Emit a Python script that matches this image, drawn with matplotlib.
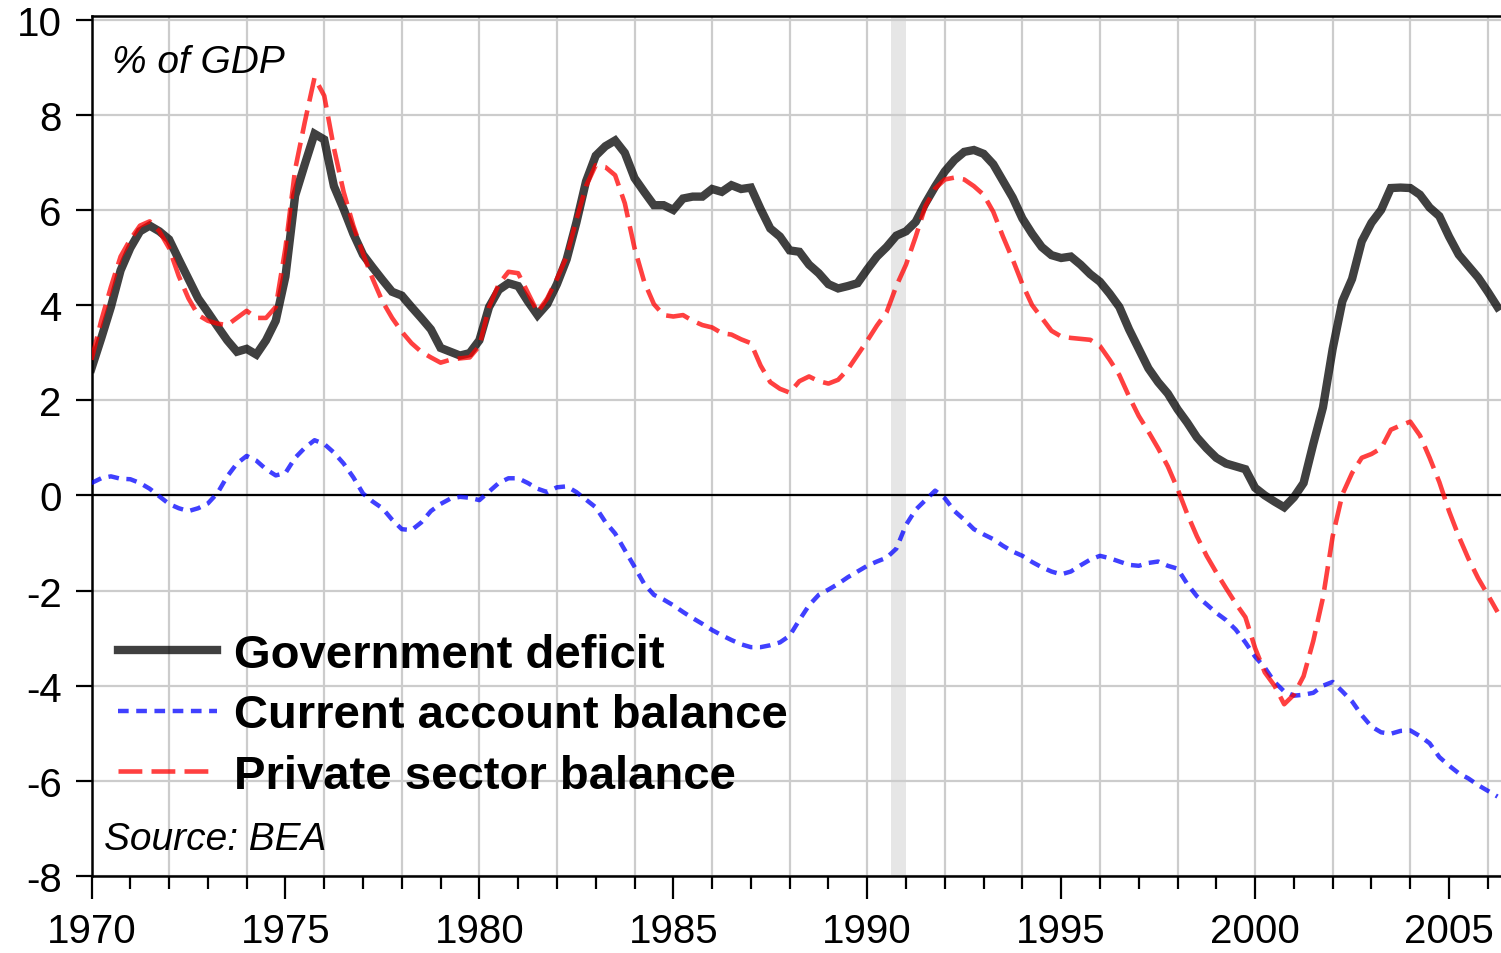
import matplotlib.pyplot as plt
import numpy as np

plt.rcParams['font.family'] = ['Liberation Sans', 'DejaVu Sans']

# quarterly observations, 1970Q1 .. 2006Q2 (% of GDP)
start_year = 1970.0
gov_deficit = [
    2.67, 3.30, 3.96, 4.73,
    5.20, 5.55, 5.67, 5.55,
    5.38, 4.96, 4.55, 4.14,
    3.85, 3.55, 3.26, 3.02,
    3.08, 2.96, 3.26, 3.67,
    4.60, 6.30, 6.96, 7.60,
    7.48, 6.50, 6.02, 5.50,
    5.06, 4.79, 4.53, 4.28,
    4.20, 3.96, 3.73, 3.49,
    3.10, 3.02, 2.94, 2.99,
    3.26, 3.96, 4.32, 4.46,
    4.40, 4.08, 3.79, 4.02,
    4.44, 4.96, 5.73, 6.60,
    7.14, 7.34, 7.46, 7.20,
    6.67, 6.38, 6.10, 6.10,
    6.00, 6.24, 6.28, 6.28,
    6.44, 6.38, 6.52, 6.44,
    6.47, 6.02, 5.61, 5.44,
    5.15, 5.12, 4.85, 4.67,
    4.44, 4.35, 4.40, 4.46,
    4.75, 5.02, 5.22, 5.46,
    5.55, 5.75, 6.14, 6.49,
    6.81, 7.05, 7.22, 7.26,
    7.18, 6.96, 6.61, 6.26,
    5.82, 5.50, 5.22, 5.05,
    4.99, 5.02, 4.85, 4.65,
    4.49, 4.24, 3.96, 3.49,
    3.08, 2.67, 2.38, 2.14,
    1.81, 1.53, 1.22, 0.99,
    0.79, 0.67, 0.61, 0.55,
    0.16, 0.00, -0.13, -0.25,
    -0.04, 0.26, 1.08, 1.85,
    3.08, 4.08, 4.55, 5.34,
    5.73, 6.00, 6.46, 6.47,
    6.46, 6.32, 6.05, 5.87,
    5.44, 5.06, 4.82, 4.58,
    4.28, 3.96,
]
current_account = [
    0.26, 0.36, 0.40, 0.35,
    0.34, 0.26, 0.14, -0.02,
    -0.18, -0.27, -0.33, -0.27,
    -0.17, 0.05, 0.40, 0.67,
    0.83, 0.73, 0.55, 0.42,
    0.47, 0.79, 1.00, 1.16,
    1.08, 0.90, 0.67, 0.38,
    0.04, -0.13, -0.27, -0.51,
    -0.71, -0.73, -0.57, -0.33,
    -0.18, -0.07, -0.03, -0.05,
    -0.10, 0.08, 0.26, 0.36,
    0.36, 0.26, 0.14, 0.07,
    0.17, 0.19, 0.07, -0.09,
    -0.25, -0.56, -0.80, -1.15,
    -1.50, -1.86, -2.09, -2.19,
    -2.31, -2.45, -2.58, -2.70,
    -2.83, -2.94, -3.04, -3.13,
    -3.19, -3.19, -3.15, -3.09,
    -2.95, -2.62, -2.31, -2.09,
    -1.98, -1.86, -1.72, -1.60,
    -1.48, -1.39, -1.31, -1.12,
    -0.62, -0.30, -0.10, 0.10,
    -0.06, -0.33, -0.51, -0.71,
    -0.82, -0.92, -1.06, -1.18,
    -1.27, -1.40, -1.51, -1.60,
    -1.66, -1.60, -1.47, -1.35,
    -1.27, -1.32, -1.39, -1.46,
    -1.48, -1.42, -1.39, -1.48,
    -1.54, -1.86, -2.12, -2.29,
    -2.47, -2.62, -2.82, -3.09,
    -3.39, -3.62, -3.92, -4.12,
    -4.21, -4.19, -4.15, -4.00,
    -3.92, -4.12, -4.33, -4.62,
    -4.86, -4.98, -5.01, -4.95,
    -4.94, -5.06, -5.21, -5.50,
    -5.68, -5.84, -5.95, -6.09,
    -6.21, -6.33,
]
private_balance = [
    2.85, 3.67, 4.38, 5.02,
    5.38, 5.67, 5.76, 5.55,
    5.20, 4.61, 4.14, 3.79,
    3.67, 3.61, 3.58, 3.73,
    3.88, 3.73, 3.73, 3.96,
    5.20, 6.85, 7.85, 8.78,
    8.40, 7.30, 6.38, 5.67,
    5.08, 4.55, 4.08, 3.73,
    3.44, 3.20, 3.02, 2.90,
    2.79, 2.85, 2.88, 2.90,
    3.14, 3.96, 4.44, 4.70,
    4.67, 4.26, 3.85, 4.14,
    4.55, 5.02, 5.79, 6.50,
    6.94, 6.90, 6.73, 6.14,
    5.20, 4.49, 4.02, 3.79,
    3.76, 3.79, 3.67, 3.58,
    3.53, 3.41, 3.38, 3.28,
    3.20, 2.73, 2.38, 2.24,
    2.16, 2.40, 2.50, 2.40,
    2.35, 2.43, 2.65, 2.95,
    3.25, 3.57, 3.85, 4.40,
    4.85, 5.44, 6.08, 6.45,
    6.64, 6.68, 6.64, 6.50,
    6.32, 5.96, 5.44, 4.96,
    4.44, 4.00, 3.73, 3.46,
    3.34, 3.31, 3.29, 3.27,
    3.14, 2.85, 2.53, 2.08,
    1.67, 1.34, 0.99, 0.61,
    0.14, -0.39, -0.86, -1.27,
    -1.62, -1.95, -2.27, -2.56,
    -3.21, -3.72, -4.00, -4.39,
    -4.19, -3.80, -3.06, -2.15,
    -0.86, 0.02, 0.47, 0.79,
    0.87, 0.99, 1.38, 1.47,
    1.55, 1.26, 0.79, 0.28,
    -0.33, -0.86, -1.33, -1.74,
    -2.09, -2.45,
]
labels = ['Government deficit', 'Current account balance', 'Private sector balance']
recession = (1990.625, 1991.0)

years = start_year + 0.25 * np.arange(len(gov_deficit))

fig = plt.figure(figsize=(15.01, 9.54), dpi=100)
ax = fig.add_axes([91.5 / 1501, 77 / 954, 1409.5 / 1501, 859.7 / 954])

ax.set_xlim(1970, 2006.34)
ax.set_ylim(-8, 10.07)

# background: shading, grid
ax.axvspan(*recession, color='#e6e6e6', lw=0, zorder=0.1)
for yr in range(1972, 2007, 2):
    ax.axvline(yr, color='#cccccc', lw=1.6, zorder=0.3)
ax.set_yticks(np.arange(-8, 11, 2))
ax.yaxis.grid(True, color='#cccccc', lw=1.6, zorder=0.3)
ax.set_axisbelow(True)
ax.axhline(0, color='black', lw=1.6, zorder=1.5)

ax.plot(years, gov_deficit, color='black', alpha=0.75, lw=6.0,
        solid_joinstyle='miter', label=labels[0], zorder=2)
ax.plot(years, current_account, color='blue', alpha=0.75, lw=3.2,
        dashes=(2.4, 1.7), label=labels[1], zorder=3)
ax.plot(years, private_balance, color='red', alpha=0.75, lw=3.3,
        dashes=(5.2, 2.0), label=labels[2], zorder=4)

# axes decoration
ax.spines['right'].set_visible(False)
for s in ['left', 'bottom', 'top']:
    ax.spines[s].set_linewidth(1.8)
ax.set_xticks(np.arange(1970, 2006, 5))
ax.set_xticks(np.arange(1970, 2007, 1), minor=True)
ax.tick_params(axis='x', which='major', direction='out', length=16.5, width=1.6,
               labelsize=29, pad=9.5)
ax.tick_params(axis='x', which='minor', direction='out', length=9, width=1.6)
ax.tick_params(axis='y', direction='out', length=11.5, width=1.6, labelsize=29, pad=10)
ax.set_yticklabels([f'{v:g}' for v in np.arange(-8, 11, 2)])

ax.text(1970.52, 9.1, '% of GDP', style='italic', fontsize=28, va='center', ha='left')
ax.text(1970.33, -7.22, 'Source: BEA', style='italic', fontsize=28, va='center', ha='left')

ax.legend(loc='upper left', bbox_to_anchor=(0.0189, 0.283), frameon=False,
          prop={'weight': 'bold', 'size': 34}, handlelength=2.09, handletextpad=0.36,
          labelspacing=0.35, borderpad=0, borderaxespad=0)

fig.savefig('out.png', dpi=100)
